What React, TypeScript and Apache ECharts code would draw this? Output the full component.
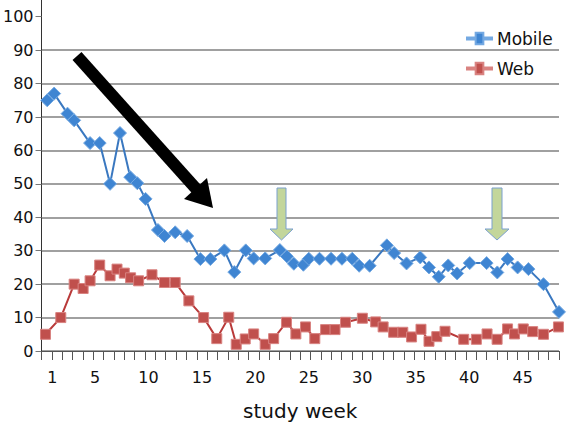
import React, { useEffect, useRef } from "react";
import * as echarts from "echarts";

const yTickValues = [0, 10, 20, 30, 40, 50, 60, 70, 80, 90, 100];
const weekLabels = [1, 5, 10, 15, 20, 25, 30, 35, 40, 45];

const mobileWeeks = [
  0.53, 1.18, 2.43, 3.05, 4.54, 5.44, 6.41, 7.34, 8.3, 8.96, 9.73, 10.89, 11.5, 12.5, 13.62,
  14.86, 15.79, 17.1, 18.03, 19.1, 19.84, 20.92, 22.29, 22.95, 23.6, 24.49, 25.0, 26.0, 27.08,
  28.1, 29.06, 29.71, 30.69, 32.3, 32.98, 34.14, 35.42, 36.24, 37.15, 38.04, 38.87, 40.05,
  41.63, 42.63, 43.59, 44.53, 45.54, 46.95, 48.4,
];
const mobileValues = [
  75.0, 77.0, 71.0, 69.0, 62.2, 62.2, 50.0, 65.2, 52.0, 50.2, 45.5, 36.2, 34.4, 35.5, 34.4,
  27.5, 27.5, 30.1, 23.6, 30.1, 27.7, 27.7, 30.2, 28.3, 26.1, 25.8, 27.6, 27.6, 27.6,
  27.6, 27.6, 25.5, 25.5, 31.6, 29.3, 26.2, 28.0, 25.0, 22.2, 25.6, 23.2, 26.3,
  26.3, 23.5, 27.5, 25.0, 24.5, 20.0, 11.7,
];

const webWeeks = [
  0.37, 1.8, 3.05, 3.89, 4.54, 5.44, 6.41, 7.06, 7.74, 8.33, 9.08, 10.33, 11.5, 12.5, 13.78,
  15.16, 16.39, 17.51, 18.21, 19.05, 19.84, 20.92, 21.71, 22.91, 23.79, 24.69, 25.56, 26.57,
  27.45, 28.43, 30.01, 31.25, 31.95, 32.93, 33.79, 34.61, 35.49, 36.24, 36.97, 37.74, 39.49,
  40.67, 41.67, 42.61, 43.59, 44.24, 45.06, 45.94, 46.95, 48.35,
];
const webValues = [
  5.0, 10.0, 20.0, 18.7, 21.0, 25.7, 22.5, 24.5, 23.3, 21.9, 21.0, 22.8, 20.5, 20.5, 15.0,
  10.0, 3.7, 10.1, 2.0, 3.6, 5.1, 2.0, 3.7, 8.6, 5.1, 7.2, 3.7, 6.4,
  6.4, 8.6, 9.8, 8.7, 7.2, 5.6, 5.6, 4.2, 6.5, 2.9, 4.3, 5.9, 3.5,
  3.5, 5.1, 3.5, 6.6, 5.1, 6.6, 5.8, 5.0, 7.2,
];

const FONT = "DejaVu Sans";
const legendIcon =
  "path://M0,6 L9,6 L9,1 L17,1 L17,6 L26,6 L26,8 L17,8 L17,13 L9,13 L9,8 L0,8 Z";

export default function App() {
  const ref = useRef<HTMLDivElement>(null);

  useEffect(() => {
    const chart = echarts.init(ref.current!, null, { renderer: "svg" });
    chart.setOption({
      animation: false,
      backgroundColor: "#ffffff",
      grid: { left: 40, right: 9, top: 0, bottom: 75, containLabel: false },
      legend: {
        orient: "vertical",
        left: 461,
        top: 25,
        itemWidth: 25,
        itemHeight: 13,
        itemGap: 13,
        textStyle: { fontSize: 17, fontFamily: FONT, color: "#111" },
        data: [
          { name: "Mobile", icon: legendIcon },
          { name: "Web", icon: legendIcon },
        ],
      },
      xAxis: [
        {
          type: "value",
          min: 0,
          max: 48.4,
          position: "bottom",
          axisLine: { show: false },
          axisTick: { show: false },
          splitLine: { show: false },
          axisLabel: {
            customValues: weekLabels,
            margin: 18,
            fontSize: 16,
            fontFamily: FONT,
            color: "#111",
          },
          name: "study week",
          nameLocation: "middle",
          nameGap: 50,
          nameTextStyle: { fontSize: 20, fontFamily: FONT, color: "#111" },
        },
        {
          type: "value",
          min: 0,
          max: 50,
          interval: 1,
          position: "bottom",
          axisLine: { show: true, lineStyle: { color: "#555", width: 1 } },
          axisTick: { show: true, length: 9, lineStyle: { color: "#555" } },
          axisLabel: { show: false },
          splitLine: { show: false },
        },
      ],
      yAxis: {
        type: "value",
        min: 0,
        max: 105,
        interval: 10,
        axisLine: { show: true, lineStyle: { color: "#333", width: 1 } },
        axisTick: { show: true, length: 6, customValues: yTickValues, lineStyle: { color: "#777" } },
        axisLabel: {
          customValues: yTickValues,
          margin: 8,
          fontSize: 16,
          fontFamily: FONT,
          color: "#111",
        },
        splitLine: { show: true, showMaxLine: false, lineStyle: { color: "#808080", width: 1.6 } },
      },
      series: [
        {
          name: "Web",
          type: "line",
          xAxisIndex: 0,
          data: webWeeks.map((w, i) => [w, webValues[i]]),
          symbol: "rect",
          symbolSize: 10,
          lineStyle: { color: "#b93a3a", width: 2 },
          itemStyle: { color: "#c0504d", borderColor: "#d98381", borderWidth: 1 },
        },
        {
          name: "Mobile",
          type: "line",
          xAxisIndex: 0,
          data: mobileWeeks.map((w, i) => [w, mobileValues[i]]),
          symbol: "diamond",
          symbolSize: 13,
          lineStyle: { color: "#3a78c0", width: 2 },
          itemStyle: { color: "#3f85d2", borderColor: "#74a9e2", borderWidth: 1 },
        },
      ],
      graphic: [
        {
          type: "line",
          shape: { x1: 77, y1: 56, x2: 199, y2: 192 },
          style: { stroke: "#000", lineWidth: 12, lineCap: "butt" },
          z: 10,
        },
        {
          type: "polygon",
          shape: { points: [[213, 208], [207, 178], [184, 199]] },
          style: { fill: "#000" },
          z: 10,
        },
        {
          type: "polygon",
          shape: {
            points: [[277, 188], [286, 188], [286, 229], [293, 229], [281.5, 240], [270, 229], [277, 229]],
          },
          style: { fill: "#c3d69b", stroke: "#7ba0cf", lineWidth: 1 },
          z: 10,
        },
        {
          type: "polygon",
          shape: {
            points: [[492, 188], [502, 188], [502, 229], [509, 229], [497, 240], [485, 229], [492, 229]],
          },
          style: { fill: "#c3d69b", stroke: "#7ba0cf", lineWidth: 1 },
          z: 10,
        },
      ],
    });
    return () => chart.dispose();
  }, []);

  return (
    <div
      ref={ref}
      style={{ position: "fixed", left: 0, top: 0, width: 568, height: 426, background: "#fff" }}
    />
  );
}
